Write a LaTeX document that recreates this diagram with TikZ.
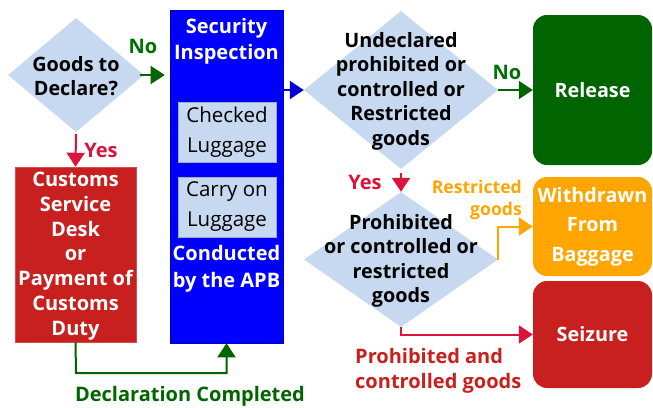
\documentclass[tikz,border=0pt]{standalone}
\usepackage{fontspec}
\setmainfont{Open Sans}
\usetikzlibrary{shapes.geometric,arrows.meta,positioning}
\definecolor{dialight}{HTML}{C6D9F0}
\definecolor{boxblue}{HTML}{0000FF}
\definecolor{boxred}{HTML}{C8201E}
\definecolor{relgreen}{HTML}{006400}
\definecolor{lblgreen}{HTML}{007000}
\definecolor{crim}{HTML}{DC143C}
\definecolor{orng}{HTML}{FFA500}
\tikzset{
  dia/.style={diamond, fill=dialight, draw=none, inner sep=0pt, aspect=1},
  dtext/.style={font=\bfseries\fontsize{19.8}{24.5}\selectfont, align=center, text=black, inner sep=0pt},
  wtext/.style={font=\bfseries\fontsize{20}{25}\selectfont, align=center, text=white, inner sep=0pt},
  inbox/.style={rectangle, fill=dialight, draw=dialight!80!black, line width=0.4pt, minimum width=98pt, minimum height=60pt, inner sep=0pt, align=center, font=\fontsize{20.5}{30}\selectfont},
  rbox/.style={rectangle, rounded corners=14pt, inner sep=0pt, align=center, text=white, font=\bfseries\fontsize{19.8}{29.5}\selectfont},
  arr/.style={line width=2pt, -{Triangle[length=14pt,width=18pt]}},
  lbl/.style={font=\bfseries\fontsize{20}{25}\selectfont, inner sep=0pt},
}
\begin{document}
\begin{tikzpicture}[x=1pt,y=-1pt]
\useasboundingbox (0,0) rectangle (653,407);
% diamonds
\node[dia, minimum width=136pt, minimum height=114pt] (d1) at (76,75) {};
\node[dtext] (t1) at (76,76) {Goods to\\Declare?};
\node[dia, minimum width=194pt, minimum height=158pt] (d2) at (401,90) {};
\node[dtext] (t2) at (401,91) {Undeclared\\prohibited or\\controlled or\\Restricted\\goods};
\node[dia, minimum width=194pt, minimum height=135pt] (d3) at (401,259.5) {};
\node[dtext] (t3) at (401,261) {Prohibited\\or controlled or\\restricted\\goods};
% blue box
\node[rectangle, fill=boxblue, draw=boxblue!75!black, line width=0.6pt, minimum width=113pt, minimum height=333pt, inner sep=0pt] (blue) at (226.5,176.5) {};
\node[wtext, font=\bfseries\fontsize{20}{26}\selectfont] (sec) at (226.5,41) {Security\\Inspection};
\node[inbox] (chk) at (227,132) {Checked\\Luggage};
\node[inbox] (car) at (227,207) {Carry on\\Luggage};
\node[wtext, font=\bfseries\fontsize{20}{27}\selectfont] (apb) at (226.5,268.5) {Conducted\\by the APB};
% customs
\node[rectangle, fill=boxred, draw=boxred!80!white, line width=0.5pt, minimum width=121pt, minimum height=175pt, inner sep=0pt] (cus) at (75.5,254.5) {};
\node[wtext, font=\bfseries\fontsize{20}{24.8}\selectfont] (cust) at (75.5,256) {Customs\\Service\\Desk\\or\\Payment of\\Customs\\Duty};
% result boxes
\node[rbox, fill=relgreen, minimum width=119pt, minimum height=150pt] (rel) at (592.5,90) {Release};
\node[rbox, fill=orng, minimum width=119pt, minimum height=99pt] (wd) at (592.5,226.5) {Withdrawn\\From\\Baggage};
\node[rbox, fill=boxred, minimum width=119pt, minimum height=107pt] (sz) at (592.5,334.5) {Seizure};
% connectors
\draw[arr, relgreen, shorten >=5pt] ([xshift=-4pt]d1.east) -- (blue.west |- d1.east);
\node[lbl, text=lblgreen] (no1) at (143,46) {No};
\draw[arr, crim, shorten <=2pt] (d1.south) -- (cus.north);
\node[lbl, text=crim] (yes1) at (101,150) {Yes};
\draw[arr, boxblue!85!black] (blue.east |- d2.west) -- (d2.west);
\draw[arr, relgreen] (d2.east) -- (rel.west);
\node[lbl, text=lblgreen] (no2) at (507,72) {No};
\draw[arr, crim, shorten <=4pt] (d2.south) -- (d3.north);
\node[lbl, text=crim] (yes2) at (365,182) {Yes};
\draw[arr, orng] (d3.east) |- (wd.west);
\node[lbl, text=orng, font=\bfseries\fontsize{17.6}{21.5}\selectfont, align=right, anchor=east] (rlab) at (522,200) {Restricted\\goods};
\draw[arr, crim] (d3.south) |- (sz.west);
\node[lbl, text=boxred, align=left, anchor=west] (plab) at (355,371) {Prohibited and\\controlled goods};
\coordinate (bend) at (76,373);
\draw[arr, relgreen] (cus.south) -- (bend) -| (blue.south);
\node[lbl, text=relgreen] (dlab) at (190,396) {Declaration Completed};
\end{tikzpicture}
\end{document}
